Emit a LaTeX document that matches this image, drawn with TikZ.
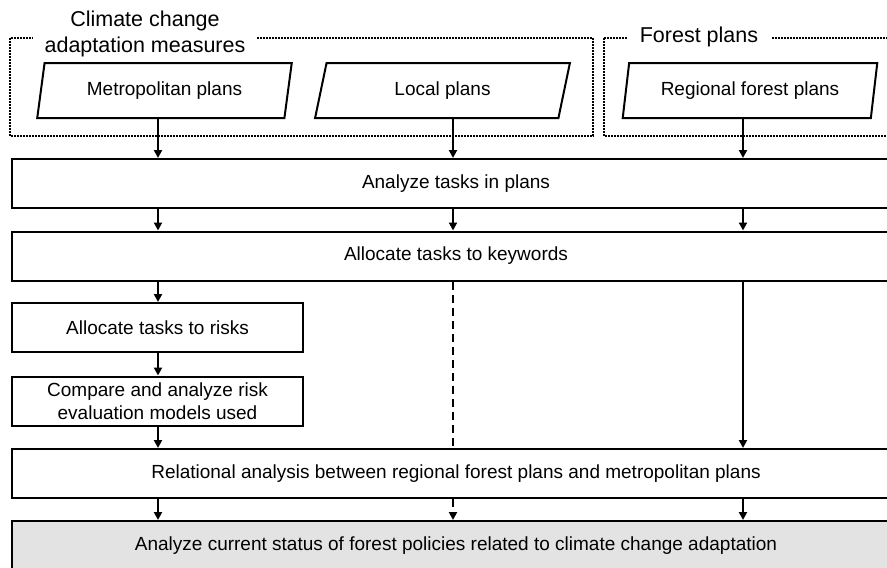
\documentclass[tikz,border=0pt]{standalone}
\usepackage{fontspec}
\setmainfont{Liberation Sans}
\usetikzlibrary{calc,arrows.meta,shapes.geometric}
\definecolor{ink}{HTML}{000000}
\definecolor{shade}{HTML}{E3E3E3}
\tikzset{
  box/.style={draw=ink, line width=2pt, minimum height=49pt, inner sep=0pt, font=\fontsize{19}{23}\selectfont, align=center},
  wide/.style={box, minimum width=888pt},
  narrow/.style={box, minimum width=291pt},
  plan/.style={box, trapezium, trapezium left angle=75, trapezium right angle=105, trapezium stretches=true, minimum width=255pt, minimum height=55pt},
  frame/.style={draw=ink, line width=2pt, dash pattern=on 2pt off 1pt},
  title/.style={fill=white, font=\fontsize{21.5}{26}\selectfont, align=center, inner ysep=3pt},
  flow/.style={draw=ink, line width=2pt, -{Triangle[width=8pt,length=8pt]}},
  weak/.style={draw=ink, line width=2.4pt, dash pattern=on 8pt off 5pt}
}
\begin{document}
\begin{tikzpicture}[x=1pt,y=-1pt]
  \clip (0,0) rectangle (887,568);
  \coordinate (c1) at (158,0);
  \coordinate (c2) at (453,0);
  \coordinate (c3) at (743,0);
  \draw[frame] (10,38) rectangle (593,136);
  \draw[frame] (604,38) rectangle (900,136);
  \node[title, inner xsep=12pt] (adapt) at (145,34) {Climate change\\adaptation measures};
  \node[title, inner xsep=13pt] (forest) at (699,37) {Forest plans};
  \node[plan] (metro) at (164.5,90.5) {Metropolitan plans};
  \node[plan] (local) at (442.5,90.5) {Local plans};
  \node[plan] (regional) at (750,90.5) {Regional forest plans};
  \node[wide] (analyze) at (456,183.5) {Analyze tasks in plans};
  \node[wide] (keywords) at (456,256) {Allocate tasks to keywords};
  \node[narrow] (risks) at (157.5,327.5) {Allocate tasks to risks};
  \node[narrow] (compare) at (157.5,401) {Compare and analyze risk\\evaluation models used};
  \node[wide] (relational) at (456,473.5) {Relational analysis between regional forest plans and metropolitan plans};
  \node[wide, fill=shade, minimum height=50pt] (status) at (456,546) {Analyze current status of forest policies related to climate change adaptation};
  \foreach \p/\c in {metro/c1,local/c2,regional/c3}
    \draw[flow] (\c |- \p.south) -- (\c |- analyze.north);
  \foreach \c in {c1,c2,c3}
    \draw[flow] (\c |- analyze.south) -- (\c |- keywords.north);
  \draw[flow] (c1 |- keywords.south) -- (c1 |- risks.north);
  \draw[flow] (c1 |- risks.south) -- (c1 |- compare.north);
  \draw[flow] (c1 |- compare.south) -- (c1 |- relational.north);
  \draw[weak] (c2 |- keywords.south) -- (c2 |- relational.north);
  \draw[flow] (c3 |- keywords.south) -- (c3 |- relational.north);
  \draw[flow] (c1 |- relational.south) -- (c1 |- status.north);
  \draw[flow, weak] (c2 |- relational.south) -- (c2 |- status.north);
  \draw[flow] (c3 |- relational.south) -- (c3 |- status.north);
\end{tikzpicture}
\end{document}
